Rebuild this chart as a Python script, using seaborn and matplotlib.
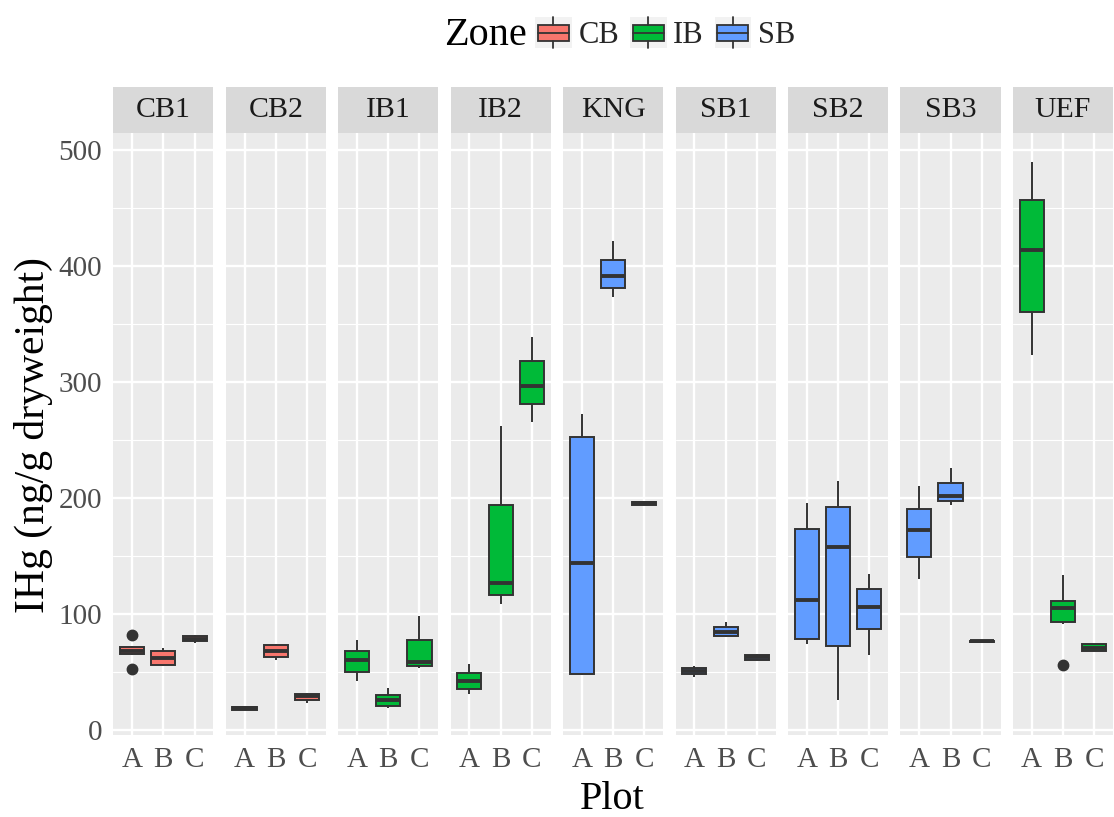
import numpy as np
import pandas as pd
import matplotlib
matplotlib.use("Agg")
import matplotlib.pyplot as plt
import seaborn as sns
from matplotlib.patches import Rectangle, Patch
from matplotlib.lines import Line2D
from matplotlib.legend_handler import HandlerBase
from matplotlib.ticker import MultipleLocator

# ---------------- data ----------------
sites = ["CB1", "CB2", "IB1", "IB2", "KNG", "SB1", "SB2", "SB3", "UEF"]
site_zone = ["CB", "CB", "IB", "IB", "SB", "SB", "SB", "SB", "IB"]
plots = ["A", "B", "C"]
zones = ["CB", "IB", "SB"]
zone_colors = {"CB": "#F8766D", "IB": "#00BA38", "SB": "#619CFF"}

# five-number summaries per (site, plot), in site order then A, B, C
whisker_low = [64.0, 54.6, 75.0, 17.0, 60.0, 23.0, 42.3, 18.8, 53.0,
               30.4, 108.8, 265.4, 47.0, 373.0, 193.5, 45.4, 80.0, 60.0,
               74.2, 25.8, 64.2, 129.6, 194.0, 75.5, 322.7, 91.0, 67.5]
q1 = [65.0, 55.8, 76.5, 17.3, 63.0, 26.0, 50.0, 20.4, 54.6,
      35.4, 116.5, 280.4, 48.0, 380.8, 193.8, 48.0, 80.4, 60.4,
      78.5, 72.0, 87.0, 148.8, 197.3, 75.8, 360.4, 92.7, 67.7]
median = [68.0, 62.0, 78.5, 18.5, 68.0, 29.0, 60.4, 25.4, 58.8,
          42.3, 126.5, 296.0, 144.0, 391.0, 195.0, 50.8, 84.6, 62.3,
          111.5, 157.3, 105.8, 172.3, 201.5, 76.2, 413.8, 104.6, 70.8]
q3 = [71.0, 68.0, 80.8, 19.6, 72.7, 31.0, 68.0, 29.6, 77.7,
      48.8, 193.5, 317.7, 252.7, 404.6, 196.0, 53.0, 88.8, 64.2,
      172.7, 192.3, 121.0, 190.4, 212.7, 76.6, 456.5, 110.8, 73.8]
whisker_high = [72.0, 70.4, 81.5, 20.0, 74.0, 32.0, 77.7, 35.8, 98.0,
                56.5, 261.5, 338.5, 272.0, 421.0, 196.2, 55.0, 93.0, 65.4,
                195.4, 214.6, 134.6, 210.4, 226.0, 77.0, 489.0, 133.5, 74.0]
outlier_low = [52.7] + [np.nan] * 24 + [56.2, np.nan]
outlier_high = [82.0] + [np.nan] * 26

# build samples whose quartiles reproduce the summaries (n = 9)
rows = []
k = 0
for s, z in zip(sites, site_zone):
    for p in plots:
        lo, a, m, b, hi = whisker_low[k], q1[k], median[k], q3[k], whisker_high[k]
        vals = [lo, lo, a, m, m, m, b, hi, hi]
        if not np.isnan(outlier_low[k]):
            vals[0] = outlier_low[k]
        if not np.isnan(outlier_high[k]):
            vals[8] = outlier_high[k]
        for v in vals:
            rows.append({"Site": s, "Plot": p, "Zone": z, "IHg": v})
        k += 1
df = pd.DataFrame(rows)

# ---------------- styling ----------------
sns.set_theme(style="white")
plt.rcParams["font.family"] = ["Liberation Serif", "DejaVu Serif"]

fig, axes = plt.subplots(1, len(sites), figsize=(11.14, 8.17), dpi=100, sharey=True)
fig.subplots_adjust(left=0.1017, right=0.9991, bottom=0.1004, top=0.8368, wspace=0.124)

strip_h = 46 / (735 - 133.3)

for i, (ax, s) in enumerate(zip(axes, sites)):
    sub = df[df["Site"] == s]
    ax.set_facecolor("#EBEBEB")
    sns.boxplot(data=sub, x="Plot", y="IHg", hue="Zone", order=plots,
                hue_order=zones, palette=zone_colors, dodge=False, width=0.77,
                saturation=1, linecolor="#333333", linewidth=1.4,
                showcaps=False, legend=False, ax=ax,
                medianprops={"linewidth": 2.8, "color": "#333333"},
                flierprops={"marker": "o", "markersize": 7.5,
                            "markerfacecolor": "#333333",
                            "markeredgecolor": "#333333"})
    ax.set_xlim(-0.6, 2.6)
    ax.set_ylim(-4.5, 514)
    ax.set_xlabel("")
    ax.set_ylabel("")
    ax.yaxis.set_major_locator(MultipleLocator(100))
    ax.yaxis.set_minor_locator(MultipleLocator(50))
    ax.set_axisbelow(True)
    ax.grid(which="major", axis="both", color="white", linewidth=1.7)
    ax.grid(which="minor", axis="y", color="white", linewidth=0.8)
    for sp in ax.spines.values():
        sp.set_visible(False)
    ax.tick_params(axis="x", length=6, width=1.1, color="#333333",
                   labelsize=21, labelcolor="#4D4D4D", pad=3)
    ax.tick_params(axis="y", which="major", length=6, width=1.1, color="#333333",
                   labelsize=21, labelcolor="#4D4D4D", pad=2)
    ax.tick_params(axis="y", which="minor", length=0)
    if i > 0:
        ax.tick_params(axis="y", which="both", left=False, labelleft=False)
    # facet strip
    ax.add_patch(Rectangle((0, 1), 1, strip_h, transform=ax.transAxes,
                           facecolor="#D9D9D9", edgecolor="none", clip_on=False))
    ax.text(0.5, 1 + strip_h / 2, s, transform=ax.transAxes, ha="center",
            va="center", fontsize=21.5, color="#1A1A1A")

# axis titles
fig.text(0.55, 0.022, "Plot", ha="center", va="center", fontsize=29, color="black")
fig.text(0.03, 0.468, "IHg (ng/g dryweight)", ha="center", va="center",
         rotation=90, fontsize=30, color="black")


# legend with boxplot-style keys
class BoxKey(HandlerBase):
    def create_artists(self, legend, orig_handle, xdescent, ydescent,
                       width, height, fontsize, trans):
        x0, y0 = -xdescent, -ydescent
        bg = Rectangle((x0, y0), width, height, facecolor="#F2F2F2",
                       edgecolor="none", transform=trans)
        bx, bw = x0 + width * 0.08, width * 0.84
        by, bh = y0 + height * 0.25, height * 0.5
        box = Rectangle((bx, by), bw, bh, facecolor=orig_handle.get_facecolor(),
                        edgecolor="#333333", linewidth=1.3, transform=trans)
        med = Line2D([bx, bx + bw], [by + bh / 2] * 2, color="#333333",
                     linewidth=1.3, transform=trans)
        cx = bx + bw / 2
        wu = Line2D([cx, cx], [by + bh, y0 + height], color="#333333",
                    linewidth=1.3, transform=trans)
        wl = Line2D([cx, cx], [y0, by], color="#333333", linewidth=1.3,
                    transform=trans)
        return [bg, box, med, wu, wl]


handles = [Patch(facecolor=zone_colors[z]) for z in zones]
fig.legend(handles, zones, loc="center left", bbox_to_anchor=(535 / 1114, 0.959),
           ncol=3, frameon=False, fontsize=22, handlelength=1.2,
           handleheight=1.2, handletextpad=0.22, columnspacing=0.35,
           borderpad=0, borderaxespad=0,
           handler_map={Patch: BoxKey()})
fig.text(527 / 1114, 0.957, "Zone", ha="right", va="center", fontsize=29,
         color="black")

fig.savefig("out.png", dpi=100)
